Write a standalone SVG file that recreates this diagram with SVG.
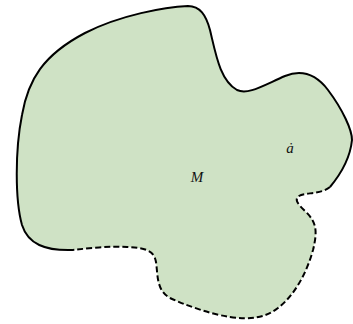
<svg xmlns="http://www.w3.org/2000/svg" width="353" height="324" viewBox="0 0 353 324">
<style>
.fill{fill:#cfe2c5;stroke:none}
.edge{fill:none;stroke:#000;stroke-width:2;stroke-linejoin:round;stroke-linecap:butt}
.dash{stroke-dasharray:6,3}
.lbl{font-family:"Liberation Serif",serif;font-style:italic;font-size:15px;fill:#111}
</style>
<g id="region">
<path class="fill" d="M73,250 C45,251 28,244 22,225 C15,200 15,150 22,115 C28,80 43,55 85,33 C120,15 165,7 188,6 C200,6 206,15 210,30 C216,55 220,80 237,90 C248,95 262,86 285,76 C300,70 315,73 328,90 C343,110 352,130 352,140 C350,160 340,175 330,187 C320,195 305,192 299,196 C293,200 300,206 306,212 C316,222 318,230 313,250 C307,272 295,295 278,308 C265,318 250,320 230,317 C210,314 185,305 170,298 C156,290 158,275 156,262 C154,250 145,248 127,247 C110,246 90,248 73,250 Z"/>
<path class="edge" d="M73,250 C45,251 28,244 22,225 C15,200 15,150 22,115 C28,80 43,55 85,33 C120,15 165,7 188,6 C200,6 206,15 210,30 C216,55 220,80 237,90 C248,95 262,86 285,76 C300,70 315,73 328,90 C343,110 352,130 352,140 C350,160 340,175 330,187"/>
<path class="edge dash" d="M330,187 C320,195 305,192 299,196 C293,200 300,206 306,212 C316,222 318,230 313,250 C307,272 295,295 278,308 C265,318 250,320 230,317 C210,314 185,305 170,298 C156,290 158,275 156,262 C154,250 145,248 127,247 C110,246 90,248 73,250"/>
</g>
<g id="label-M"><text class="lbl" x="197" y="182" text-anchor="middle">M</text></g>
<g id="label-a"><text class="lbl" x="290" y="153" text-anchor="middle">ȧ</text></g>
</svg>
